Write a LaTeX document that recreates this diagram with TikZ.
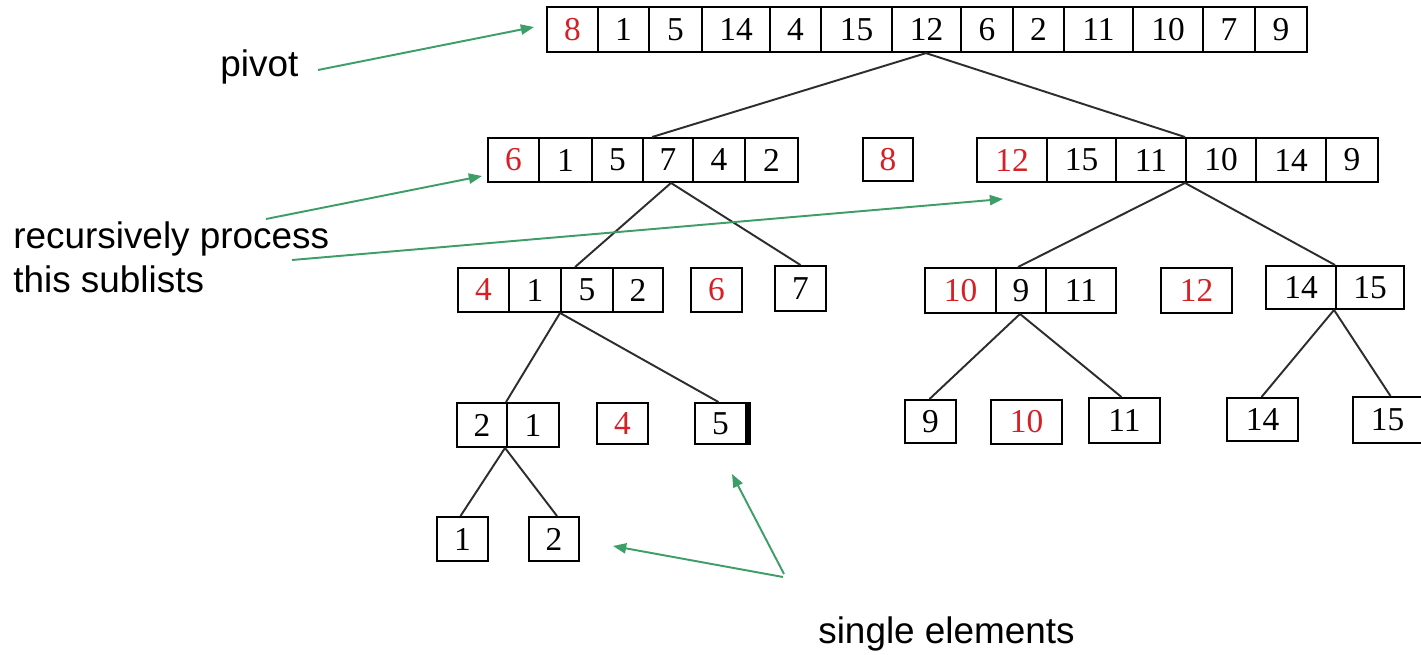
\documentclass[tikz,border=0pt]{standalone}
\usepackage{fontspec}
\setmainfont{Liberation Serif}
\newfontfamily\labelfont{Liberation Sans}
\usetikzlibrary{arrows.meta}
\definecolor{pivred}{RGB}{214,32,38}
\definecolor{arrgreen}{RGB}{62,158,104}
\definecolor{treegray}{RGB}{45,45,45}
\newdimen\pxu \pxu=0.02cm
\newcommand\pv[1]{\textcolor{pivred}{#1}}
\newcommand\mycell[6]{\node[cell, minimum width={(#3-#2)*\pxu}, minimum height={(#5-#4)*\pxu}] (#1) at ({(#2+#3)/2},{(#4+#5)/2}) {#6};}
\tikzset{
  cell/.style={draw=black, line width=1.1pt, inner sep=0pt, font=\fontsize{19}{23}\selectfont},
  treeline/.style={draw=treegray, line width=1.1pt},
  greenarrow/.style={draw=arrgreen, line width=1.1pt, -{Triangle[length=7.5pt,width=5.8pt]}},
  lbl/.style={font=\labelfont\fontsize{21}{25}\selectfont, inner sep=0pt, anchor=base west}
}
\begin{document}
\begin{tikzpicture}[x=0.02cm,y=-0.02cm]
\useasboundingbox[fill=white] (0,0) rectangle (1421,655);
% top row
\mycell{t1}{547}{598}{7}{52}{\pv{8}}
\mycell{t2}{598}{649}{7}{52}{1}
\mycell{t3}{649}{702}{7}{52}{5}
\mycell{t4}{702}{770}{7}{52}{14}
\mycell{t5}{770}{821}{7}{52}{4}
\mycell{t6}{821}{892}{7}{52}{15}
\mycell{t7}{892}{961}{7}{52}{12}
\mycell{t8}{961}{1013}{7}{52}{6}
\mycell{t9}{1013}{1064}{7}{52}{2}
\mycell{t10}{1064}{1133}{7}{52}{11}
\mycell{t11}{1133}{1203}{7}{52}{10}
\mycell{t12}{1203}{1255}{7}{52}{7}
\mycell{t13}{1255}{1307}{7}{52}{9}
% row 2
\mycell{a1}{488}{539}{138}{182}{\pv{6}}
\mycell{a2}{539}{592}{138}{182}{1}
\mycell{a3}{592}{643}{138}{182}{5}
\mycell{a4}{643}{693}{138}{182}{7}
\mycell{a5}{693}{745}{138}{182}{4}
\mycell{a6}{745}{798}{138}{182}{2}
\mycell{p8}{863}{913}{138}{181}{\pv{8}}
\mycell{b1}{977}{1047}{138}{182}{\pv{12}}
\mycell{b2}{1047}{1116}{138}{182}{15}
\mycell{b3}{1116}{1186}{138}{182}{11}
\mycell{b4}{1186}{1256}{138}{182}{10}
\mycell{b5}{1256}{1326}{138}{182}{14}
\mycell{b6}{1326}{1378}{138}{182}{9}
% row 3
\mycell{c1}{458}{509}{268}{312}{\pv{4}}
\mycell{c2}{509}{561}{268}{312}{1}
\mycell{c3}{561}{613}{268}{312}{5}
\mycell{c4}{613}{663}{268}{312}{2}
\mycell{p6}{691}{742}{268}{312}{\pv{6}}
\mycell{s7}{775}{826}{266}{311}{7}
\mycell{d1}{925}{996}{268}{313}{\pv{10}}
\mycell{d2}{996}{1046}{268}{313}{9}
\mycell{d3}{1046}{1116}{268}{313}{11}
\mycell{p12}{1161}{1232}{268}{313}{\pv{12}}
\mycell{e1}{1266}{1336}{266}{309}{14}
\mycell{e2}{1336}{1404}{266}{309}{15}
% row 4
\mycell{f1}{457}{507}{403}{447}{2}
\mycell{f2}{507}{559}{403}{447}{1}
\mycell{p4}{597}{648}{403}{444}{\pv{4}}
\mycell{s5}{695}{746}{403}{444}{5}
\fill ([xshift=-1\pxu]s5.north east) rectangle ([xshift=4\pxu]s5.south east);
\mycell{s9}{905}{956}{400}{443}{9}
\mycell{p10}{991}{1062}{400}{444}{\pv{10}}
\mycell{s11}{1089}{1160}{398}{443}{11}
\mycell{s14}{1227}{1298}{398}{441}{14}
\mycell{s15}{1353}{1422}{397}{443}{15}
% row 5
\mycell{s1}{437}{488}{517}{561}{1}
\mycell{s2}{529}{579}{517}{561}{2}
% tree lines
\draw[treeline] (t7.south) -- ([xshift=10\pxu]a4.north west);
\draw[treeline] ([xshift=-1\pxu]t7.south) -- (b4.north west);
\draw[treeline] ([xshift=3\pxu]a4.south) -- ([xshift=-12\pxu]c3.north);
\draw[treeline] ([xshift=3\pxu]a4.south) -- (s7.north);
\draw[treeline] (b4.south west) -- ([xshift=21\pxu]d1.north east);
\draw[treeline] (b4.south west) -- (e2.north west);
\draw[treeline] (c3.south west) -- (f2.north west);
\draw[treeline] (c3.south west) -- ([xshift=-2\pxu]s5.north);
\draw[treeline] ([xshift=-1\pxu]d2.south) -- ([xshift=-1\pxu]s9.north);
\draw[treeline] ([xshift=-1\pxu]d2.south) -- ([xshift=-3\pxu]s11.north);
\draw[treeline] ([xshift=-1\pxu]e2.south west) -- ([xshift=-1\pxu]s14.north);
\draw[treeline] ([xshift=-1\pxu]e2.south west) -- ([xshift=3\pxu]s15.north);
\draw[treeline] ([xshift=-1\pxu]f2.south west) -- ([xshift=-2\pxu]s1.north);
\draw[treeline] ([xshift=-1\pxu]f2.south west) -- ([xshift=3\pxu]s2.north);
% labels
\node[lbl] (lpivot) at (220,77) {pivot};
\node[lbl] (lrec) at (13,249) {recursively process};
\node[lbl] (lthis) at (13,293) {this sublists};
\node[lbl] (lsingle) at (818,643) {single elements};
% green arrows
\coordinate (pivstart) at (318,70);
\coordinate (pivtip) at (534,27);
\coordinate (rec1start) at (266,219);
\coordinate (rec1tip) at (482,176);
\coordinate (rec2start) at (292,260);
\coordinate (rec2tip) at (1003,199);
\coordinate (sgl1start) at (783,577);
\coordinate (sgl1tip) at (613,546);
\coordinate (sgl2start) at (784,574);
\coordinate (sgl2tip) at (732,474);
\draw[greenarrow] (pivstart) -- (pivtip);
\draw[greenarrow] (rec1start) -- (rec1tip);
\draw[greenarrow] (rec2start) -- (rec2tip);
\draw[greenarrow] (sgl1start) -- (sgl1tip);
\draw[greenarrow] (sgl2start) -- (sgl2tip);
\end{tikzpicture}
\end{document}
